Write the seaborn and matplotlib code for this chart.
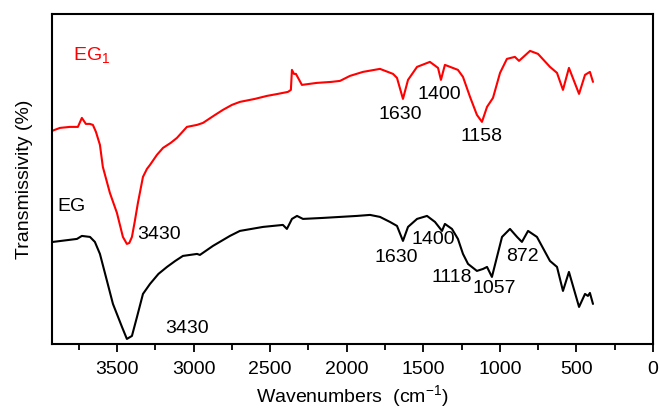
import matplotlib
matplotlib.use("Agg")
import matplotlib.pyplot as plt
import seaborn as sns
import pandas as pd
from matplotlib.ticker import MultipleLocator

# EG1 (red) spectrum: wavenumber (cm-1) and transmissivity (arbitrary units)
eg1_wn = [3925, 3873, 3808, 3756, 3730, 3704, 3678, 3658, 3638, 3612, 3593, 3547,
          3501, 3462, 3436, 3420, 3403, 3385, 3364, 3331, 3305, 3285, 3240, 3200,
          3150, 3109, 3044, 2978, 2939, 2870, 2809, 2750, 2698, 2600, 2521, 2450,
          2384, 2365, 2358, 2345, 2332, 2293, 2195, 2100, 2044, 1979,
          1894, 1783, 1698, 1672, 1633, 1600, 1541, 1457, 1404, 1385, 1359, 1274,
          1241, 1195, 1150, 1117, 1084, 1045, 999, 954, 902, 875, 803, 751, 673,
          627, 588, 549, 483, 444, 412, 392]
eg1_t = [213, 216, 217, 217, 226, 220, 220, 219, 212, 199, 177, 151,
         131, 107, 100, 101, 107, 122, 141, 167, 175, 179, 189, 196,
         201, 206, 217, 219, 221, 228, 234, 239, 242, 245, 248, 250,
         252, 254, 274, 270, 270, 259, 261, 262, 263, 268,
         272, 275, 270, 266, 245, 264, 277, 282, 276, 264, 279, 274,
         267, 247, 229, 222, 237, 246, 271, 285, 287, 283, 293, 290, 277,
         271, 254, 276, 250, 269, 272, 262]

# EG (black) spectrum
eg_wn = [3919, 3762, 3730, 3677, 3645, 3612, 3566, 3527, 3468, 3436, 3403, 3370,
         3331, 3285, 3230, 3174, 3120, 3070, 2978, 2959, 2874, 2763, 2698, 2547, 2417, 2391,
         2371, 2358, 2325, 2286, 2155, 1933, 1848, 1783, 1718, 1672, 1633, 1600,
         1541, 1476, 1424, 1378, 1359, 1313, 1274, 1241, 1208, 1150, 1110, 1084,
         1052, 1019, 986, 934, 888, 856, 816, 758, 673, 627, 588, 549, 483, 444,
         425, 412, 392]
eg_t = [102, 105, 108, 107, 102, 90, 63, 40, 17, 5, 8, 27,
        50, 60, 70, 77, 83, 88, 90, 89, 98, 108, 113, 117, 119, 115,
        121, 125, 128, 125, 126, 128, 129, 127, 122, 118, 103, 117,
        125, 128, 122, 113, 120, 115, 105, 90, 80, 73, 75, 77,
        67, 87, 107, 115, 107, 102, 113, 107, 83, 77, 53, 72, 37, 50,
        48, 51, 40]

# Peak annotations: (text, wavenumber of left edge, value of text center, colour)
ann_text = ["EG$_1$", "3430", "EG", "3430", "1630", "1400", "1158",
            "1630", "1400", "1118", "1057", "872"]
ann_wn = [3788, 3370, 3893, 3188, 1796, 1535, 1254, 1822, 1574, 1444, 1176, 960]
ann_val = [289, 109, 137, 15, 229, 249, 207, 86, 104, 66, 55, 87]
ann_col = ["#ff0000", "black", "black", "black", "black", "black", "black",
           "black", "black", "black", "black", "black"]

x_ticks = [3500, 3000, 2500, 2000, 1500, 1000, 500, 0]

sns.set_style("ticks")
plt.rcParams['font.family'] = ['Liberation Sans', 'DejaVu Sans']
plt.rcParams['mathtext.fontset'] = 'custom'
plt.rcParams['mathtext.rm'] = 'Liberation Sans'
plt.rcParams['mathtext.it'] = 'Liberation Sans'
plt.rcParams['mathtext.default'] = 'regular'
plt.rcParams['text.color'] = 'black'
plt.rcParams['axes.labelcolor'] = 'black'
plt.rcParams['xtick.color'] = 'black'

df = pd.concat([
    pd.DataFrame({"wn": eg1_wn, "t": eg1_t, "sample": "EG1"}),
    pd.DataFrame({"wn": eg_wn, "t": eg_t, "sample": "EG"}),
])

fig = plt.figure(figsize=(6.6, 4.08), dpi=100)
ax = fig.add_axes([0.0788, 0.157, 0.9106, 0.809])
sns.lineplot(data=df, x="wn", y="t", hue="sample", sort=False, estimator=None,
             palette={"EG1": "#ff0000", "EG": "black"}, linewidth=1.5,
             legend=False, ax=ax)

ax.set_xlim(3925, 0)
ax.set_ylim(0, 330)
ax.set_xticks(x_ticks)
ax.xaxis.set_minor_locator(MultipleLocator(250))
ax.set_yticks([])
ax.tick_params(axis='x', which='major', direction='out', length=6, width=1.3,
               labelsize=14, pad=6, colors='black')
ax.tick_params(axis='x', which='minor', direction='out', length=4, width=1.3,
               colors='black')
for s in ax.spines.values():
    s.set_linewidth(1.5)
    s.set_color("black")

ax.set_xlabel("Wavenumbers  (cm$^{-1}$)", fontsize=14, labelpad=4, color='black')
ax.set_ylabel("Transmissivity (%)", fontsize=14, labelpad=14, color='black')

for txt, w, v, c in zip(ann_text, ann_wn, ann_val, ann_col):
    ax.text(w, v, txt, color=c, fontsize=14, ha="left", va="center")

fig.savefig("out.png", dpi=100)
